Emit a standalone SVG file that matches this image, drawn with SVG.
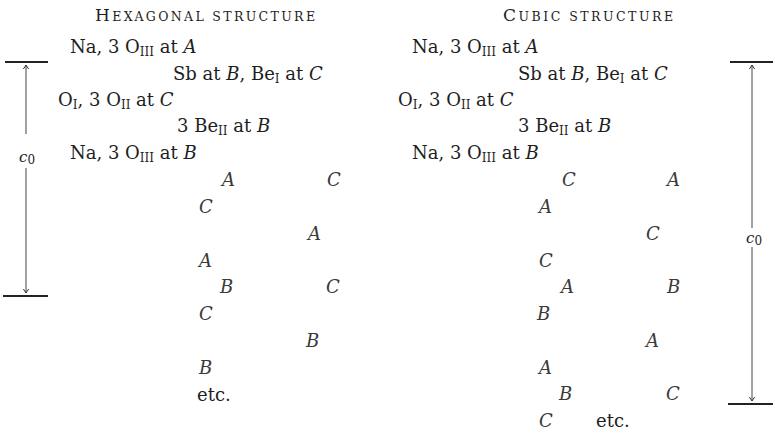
<svg xmlns="http://www.w3.org/2000/svg" width="775" height="433" viewBox="0 0 775 433">
<style>
text{font-family:"DejaVu Serif","Liberation Serif",serif;font-size:18px;fill:#1e1e1e}
.i{font-style:italic}
.s{font-size:12px}
.L{font-style:italic;fill:#3a3a3a}
.tb{font-size:17px}
.ts{font-size:12.5px}
.c0{font-style:italic;font-size:15px}
.bar{stroke:#222;stroke-width:2}
.dim{stroke:#444;stroke-width:1;fill:none}
</style>
<defs>
<marker id="arr" viewBox="-5 -4 6 8" markerWidth="6" markerHeight="8" refX="0" refY="0" orient="auto" markerUnits="userSpaceOnUse">
<path d="M-4,-2.6 L0,0 L-4,2.6" fill="none" stroke="#333" stroke-width="1"/>
</marker>
</defs>

<g id="hexagonal">
<text x="95" y="21" textLength="220" lengthAdjust="spacing"><tspan class="tb">H</tspan><tspan class="ts">EXAGONAL STRUCTURE</tspan></text>
<text x="70" y="53">Na, 3 O<tspan class="s" dy="3">III</tspan><tspan dy="-3"> at </tspan><tspan class="i">A</tspan></text>
<text x="173" y="80">Sb at <tspan class="i">B</tspan>, Be<tspan class="s" dy="3">I</tspan><tspan dy="-3"> at </tspan><tspan class="i">C</tspan></text>
<text x="58" y="106">O<tspan class="s" dy="3">I</tspan><tspan dy="-3">, 3 O</tspan><tspan class="s" dy="3">II</tspan><tspan dy="-3"> at </tspan><tspan class="i">C</tspan></text>
<text x="177" y="132">3 Be<tspan class="s" dy="3">II</tspan><tspan dy="-3"> at </tspan><tspan class="i">B</tspan></text>
<text x="70" y="159">Na, 3 O<tspan class="s" dy="3">III</tspan><tspan dy="-3"> at </tspan><tspan class="i">B</tspan></text>
<text class="L" x="222" y="186">A</text>
<text class="L" x="327" y="186">C</text>
<text class="L" x="199" y="213">C</text>
<text class="L" x="308" y="240">A</text>
<text class="L" x="199" y="267">A</text>
<text class="L" x="220" y="293">B</text>
<text class="L" x="326" y="293">C</text>
<text class="L" x="199" y="320">C</text>
<text class="L" x="306" y="347">B</text>
<text class="L" x="199" y="374">B</text>
<text x="197" y="401">etc.</text>
</g>

<g id="cubic">
<text x="503" y="21" textLength="170" lengthAdjust="spacing"><tspan class="tb">C</tspan><tspan class="ts">UBIC  STRUCTURE</tspan></text>
<text x="412" y="53">Na, 3 O<tspan class="s" dy="3">III</tspan><tspan dy="-3"> at </tspan><tspan class="i">A</tspan></text>
<text x="518" y="80">Sb at <tspan class="i">B</tspan>, Be<tspan class="s" dy="3">I</tspan><tspan dy="-3"> at </tspan><tspan class="i">C</tspan></text>
<text x="398" y="106">O<tspan class="s" dy="3">I</tspan><tspan dy="-3">, 3 O</tspan><tspan class="s" dy="3">II</tspan><tspan dy="-3"> at </tspan><tspan class="i">C</tspan></text>
<text x="518" y="132">3 Be<tspan class="s" dy="3">II</tspan><tspan dy="-3"> at </tspan><tspan class="i">B</tspan></text>
<text x="412" y="159">Na, 3 O<tspan class="s" dy="3">III</tspan><tspan dy="-3"> at </tspan><tspan class="i">B</tspan></text>
<text class="L" x="562" y="186">C</text>
<text class="L" x="667" y="186">A</text>
<text class="L" x="539" y="213">A</text>
<text class="L" x="646" y="240">C</text>
<text class="L" x="539" y="267">C</text>
<text class="L" x="561" y="293">A</text>
<text class="L" x="667" y="293">B</text>
<text class="L" x="537" y="320">B</text>
<text class="L" x="646" y="347">A</text>
<text class="L" x="539" y="374">A</text>
<text class="L" x="559" y="400">B</text>
<text class="L" x="666" y="400">C</text>
<text class="L" x="539" y="427">C</text>
<text x="596" y="427">etc.</text>
</g>

<g id="dimension-hex">
<line class="bar" x1="5" y1="62" x2="48" y2="62"/>
<line class="bar" x1="3" y1="296" x2="48" y2="296"/>
<text class="c0" x="19" y="162">c<tspan class="s" dy="2" style="font-style:normal">0</tspan></text>
</g>

<g id="dimension-cubic">
<line class="bar" x1="730" y1="62" x2="773" y2="62"/>
<line class="bar" x1="728" y1="404" x2="773" y2="404"/>
<text class="c0" x="746" y="243">c<tspan class="s" dy="2" style="font-style:normal">0</tspan></text>
</g>

<g id="connectors">
<line class="dim" x1="26" y1="134" x2="26" y2="65" marker-end="url(#arr)"/>
<line class="dim" x1="26" y1="168" x2="26" y2="293" marker-end="url(#arr)"/>
<line class="dim" x1="752" y1="228" x2="752" y2="65" marker-end="url(#arr)"/>
<line class="dim" x1="752" y1="247" x2="752" y2="401" marker-end="url(#arr)"/>
</g>
</svg>
